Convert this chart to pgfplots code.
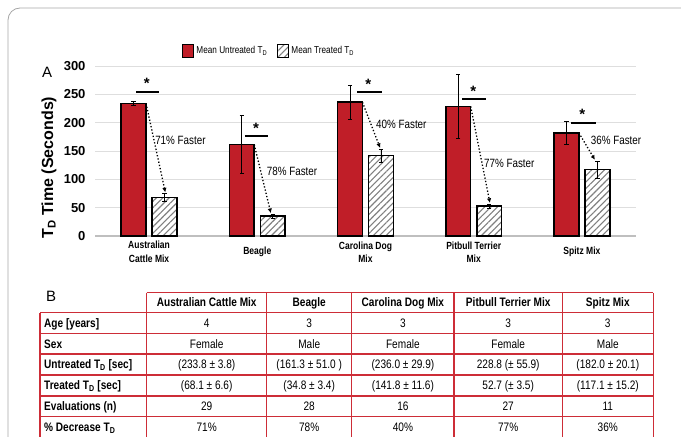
\documentclass[border=0pt]{standalone}
\usepackage{fontspec}
\setmainfont{Liberation Sans}
\newfontfamily\narrow{Liberation Sans}[FakeStretch=0.82]
\usepackage{pgfplots}
\usepackage{pgfplotstable}
\pgfplotsset{compat=1.18}
\usetikzlibrary{patterns.meta,arrows.meta}
\definecolor{barred}{RGB}{192,30,40}
\definecolor{tabred}{RGB}{205,45,55}

% x = category position (0..4) shifted to the bar's own place
\pgfplotstableread{
x y e
-0.143 233.8 3.8
0.857 161.3 51.0
1.857 236.0 29.9
2.857 228.8 55.9
3.857 182.0 20.1
}\untreated
\pgfplotstableread{
x y e
0.143 68.1 6.6
1.143 34.8 3.4
2.143 141.8 11.6
3.143 52.7 3.5
4.143 117.1 15.2
}\treated

\tikzset{
  star/.style={anchor=north, inner sep=0, font=\bfseries\fontsize{15}{15}\selectfont},
  sigline/.style={black, line width=2pt},
  darr/.style={black, dotted, line width=1.3pt, -{Latex[length=4.5pt,width=4.5pt]}},
  fast/.style={anchor=west, inner sep=0, font=\narrow\fontsize{12}{12}\selectfont},
}

\begin{document}
\begin{tikzpicture}[x=1pt,y=1pt]
\useasboundingbox (0,0) rectangle (681,437);
\draw[black!35, line width=0.8pt, rounded corners=12pt] (8,429) rectangle (730,-40);
\node[anchor=north west, inner sep=0, font=\fontsize{15}{15}\selectfont] at (42,370) {A};
\begin{axis}[
  scale only axis,
  width=541pt, height=170pt,
  xmin=-0.5, xmax=4.5, ymin=0, ymax=300,
  ytick={0,50,...,300}, xtick={0,...,4},
  xticklabels={{Australian\\Cattle Mix},Beagle,{Carolina Dog\\Mix},{Pitbull Terrier\\Mix},Spitz Mix},
  xticklabel style={align=center, font=\narrow\bfseries\fontsize{10.4}{13.5}\selectfont, anchor=center, yshift=-16pt},
  yticklabel style={font=\bfseries\fontsize{13}{15}\selectfont, xshift=-6pt},
  /pgf/number format/assume math mode=true,
  axis line style={draw=none}, major tick length=0pt,
  ymajorgrids, major grid style={draw=black!13, line width=0.9pt},
  ylabel={T\textsubscript{D} Time (Seconds)},
  ylabel style={font=\bfseries\fontsize{16}{18}\selectfont, at={(axis description cs:-0.085,0.403)}, anchor=center},
  legend columns=2,
  legend style={draw=none, at={(axis description cs:0.161,1.045)}, anchor=south west, inner sep=0pt,
    font=\narrow\fontsize{10}{12}\selectfont,
    /tikz/every even column/.append style={column sep=8pt}},
  legend image code/.code={\draw[#1, line width=1.2pt] (0pt,-6.5pt) rectangle (11pt,6.5pt);},
  clip=false,
  at={(95pt,201pt)}, anchor=south west,
]
\draw[black!25, line width=1.5pt] (axis cs:-0.5,0) -- (axis cs:4.5,0);
\addplot[ybar, bar width=0.23, bar shift=0, fill=barred, draw=black, line width=1.6pt,
  error bars/.cd, y dir=both, y explicit,
  error bar style={line width=0.8pt, black},
  error mark options={rotate=90, mark size=2.2pt, line width=0.8pt, black}]
  table[x=x, y=y, y error=e] {\untreated};
\addplot[ybar, bar width=0.23, bar shift=0, fill=white, draw=black, line width=1.6pt,
  postaction={pattern={Lines[angle=45,distance=4.5pt,line width=1.1pt]}, pattern color=black!50},
  error bars/.cd, y dir=both, y explicit,
  error bar style={line width=0.8pt, black},
  error mark options={rotate=90, mark size=2.2pt, line width=0.8pt, black}]
  table[x=x, y=y, y error=e] {\treated};
\legend{Mean Untreated T\textsubscript{D}, Mean Treated T\textsubscript{D}}
% significance markers
\node[star] at (axis cs:-0.022,278.8) {*};
\node[star] at (axis cs:0.988,200) {*};
\node[star] at (axis cs:2.026,277) {*};
\node[star] at (axis cs:2.996,265) {*};
\node[star] at (axis cs:4.004,224) {*};
\draw[sigline] (axis cs:-0.121,254) -- (axis cs:0.091,254);
\draw[sigline] (axis cs:0.886,176.5) -- (axis cs:1.099,176.5);
\draw[sigline] (axis cs:1.924,254) -- (axis cs:2.15,254);
\draw[sigline] (axis cs:2.895,242.3) -- (axis cs:3.114,242.3);
\draw[sigline] (axis cs:3.899,200) -- (axis cs:4.128,200);
% arrows
\draw[darr] (axis cs:-0.028,233.8) -- (axis cs:0.15,77);
\draw[darr] (axis cs:0.972,161.3) -- (axis cs:1.125,40.5);
\draw[darr] (axis cs:1.972,236) -- (axis cs:2.135,155.5);
\draw[darr] (axis cs:2.972,228.8) -- (axis cs:3.15,58.5);
\draw[darr] (axis cs:3.972,182) -- (axis cs:4.12,134.5);
% labels
\node[fast] at (axis cs:0.055,169.4) {71\% Faster};
\node[fast] at (axis cs:1.087,114.7) {78\% Faster};
\node[fast] at (axis cs:2.097,197) {40\% Faster};
\node[fast] at (axis cs:3.095,128.3) {77\% Faster};
\node[fast] at (axis cs:4.081,169.4) {36\% Faster};
\end{axis}
% ---------- table B ----------
\node[anchor=north west, inner sep=0, font=\fontsize{15}{15}\selectfont] at (46,146) {B};
\begin{scope}[tabred, line width=1.3pt]
\draw (146.7,144.3) -- (653.3,144.3);
\foreach \yy in {124.3,103.7,83,62,41,20.3,-0.4} { \draw (40,\yy) -- (653.3,\yy); }
\draw (40,124.3) -- (40,-1);
\foreach \xx in {146.7,266.7,351.7,454,562.3,653.3} { \draw (\xx,144.3) -- (\xx,-1); }
\end{scope}
\begin{scope}[every node/.style={inner sep=0, font=\narrow\fontsize{12.3}{14}\selectfont}]
% header
\foreach \cx/\t in {206.7/Australian Cattle Mix, 309.2/Beagle, 402.9/Carolina Dog Mix, 508.2/Pitbull Terrier Mix, 607.8/Spitz Mix}{
  \node[anchor=base, font=\narrow\bfseries\fontsize{12.3}{14}\selectfont] at (\cx,130) {\t};
}
% first column
\foreach \cy/\t in {109.6/Age [years], 88.9/Sex, 68.1/Untreated T\textsubscript{D} [sec], 47.1/Treated T\textsubscript{D} [sec], 26.2/Evaluations (n), 5.6/\% Decrease T\textsubscript{D}}{
  \node[anchor=base west, font=\narrow\bfseries\fontsize{12.3}{14}\selectfont] at (44,\cy) {\t};
}
% body
\foreach \cx/\a/\b/\c/\d/\e/\f in {
  206.7/4/Female/(233.8 ± 3.8)/(68.1 ± 6.6)/29/71\%,
  309.2/3/Male/(161.3 ± 51.0 )/(34.8 ± 3.4)/28/78\%,
  402.9/3/Female/(236.0 ± 29.9)/(141.8 ± 11.6)/16/40\%,
  508.2/3/Female/228.8 (± 55.9)/52.7 (± 3.5)/27/77\%,
  607.8/3/Male/(182.0 ± 20.1)/(117.1 ± 15.2)/11/36\%}{
  \node[anchor=base] at (\cx,109.6) {\a};
  \node[anchor=base] at (\cx,88.9) {\b};
  \node[anchor=base] at (\cx,68.1) {\c};
  \node[anchor=base] at (\cx,47.1) {\d};
  \node[anchor=base] at (\cx,26.2) {\e};
  \node[anchor=base] at (\cx,5.6) {\f};
}
\end{scope}
\end{tikzpicture}
\end{document}
